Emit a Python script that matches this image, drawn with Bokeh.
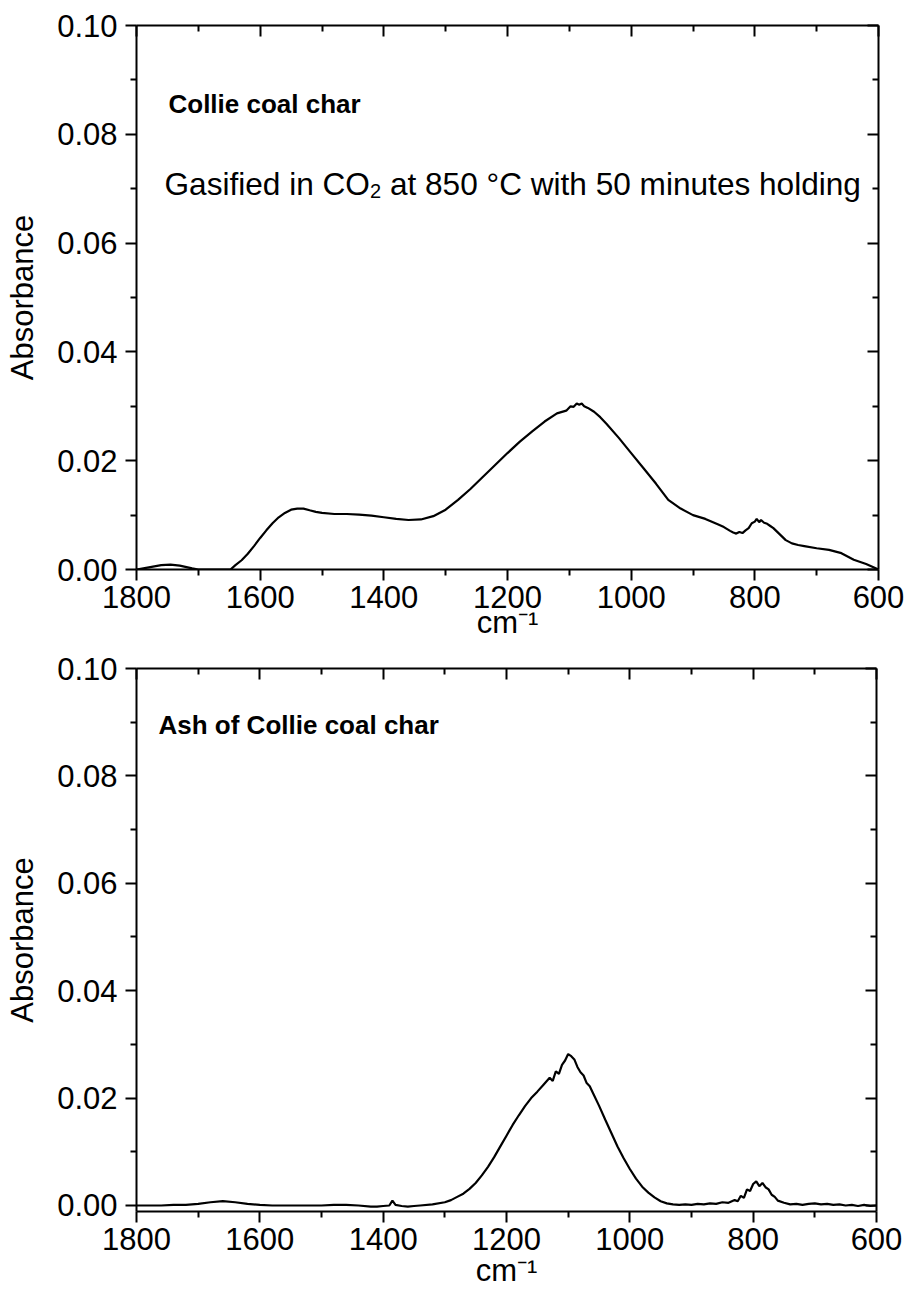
from bokeh.plotting import figure
from bokeh.models import Range1d, LinearAxis, FixedTicker, NumeralTickFormatter, Label
from bokeh.layouts import column
from bokeh.embed import file_html
from bokeh.resources import INLINE

FONT = "Liberation Sans"

x_ticks = [1800, 1600, 1400, 1200, 1000, 800, 600]
x_minor = [1700, 1500, 1300, 1100, 900, 700]
y_ticks = [0.0, 0.02, 0.04, 0.06, 0.08, 0.10]
y_minor = [0.01, 0.03, 0.05, 0.07, 0.09]

# Collie coal char (gasified in CO2 at 850 C, 50 min holding)
char_wn = [1800, 1780, 1760, 1745, 1730, 1710, 1700, 1680, 1660, 1648,
           1640, 1630, 1620, 1610, 1600, 1590, 1580, 1570, 1560, 1550,
           1540, 1530, 1520, 1510, 1500, 1480, 1460, 1440, 1420, 1400,
           1380, 1360, 1340, 1320, 1300, 1280, 1260, 1240, 1220, 1200,
           1180, 1160, 1140, 1120, 1105, 1098, 1093, 1088, 1084, 1080,
           1076, 1070, 1060, 1050, 1040, 1020, 1000, 980, 960, 940,
           920, 900, 880, 860, 850, 840, 835, 830, 825, 820,
           815, 810, 805, 800, 797, 793, 790, 785, 780, 775,
           770, 760, 750, 740, 730, 720, 700, 680, 660, 640,
           620, 600]
char_abs = [0.0000, 0.0004, 0.0008, 0.0009, 0.0007, 0.0002, 0.0000, 0.0000, 0.0000, 0.0000,
            0.0008, 0.0017, 0.0029, 0.0043, 0.0058, 0.0072, 0.0085, 0.0096, 0.0104, 0.0110,
            0.0112, 0.0112, 0.0109, 0.0106, 0.0104, 0.0102, 0.0102, 0.0101, 0.0099, 0.0096,
            0.0093, 0.0091, 0.0092, 0.0098, 0.0110, 0.0128, 0.0148, 0.0170, 0.0192, 0.0214,
            0.0235, 0.0254, 0.0272, 0.0287, 0.0292, 0.0300, 0.0299, 0.0305, 0.0303, 0.0305,
            0.0300, 0.0297, 0.0290, 0.0280, 0.0268, 0.0242, 0.0214, 0.0186, 0.0158, 0.0128,
            0.0112, 0.0100, 0.0093, 0.0083, 0.0078, 0.0071, 0.0068, 0.0066, 0.0069, 0.0067,
            0.0072, 0.0076, 0.0085, 0.0088, 0.0093, 0.0087, 0.0091, 0.0086, 0.0084, 0.0080,
            0.0076, 0.0065, 0.0054, 0.0048, 0.0045, 0.0043, 0.0039, 0.0036, 0.0030, 0.0018,
            0.0010, 0.0000]

# Ash of Collie coal char
ash_wn = [1800, 1780, 1760, 1740, 1720, 1700, 1680, 1660, 1640, 1620,
          1600, 1580, 1560, 1540, 1520, 1500, 1480, 1460, 1440, 1420,
          1410, 1400, 1390, 1385, 1380, 1370, 1360, 1350, 1340, 1320,
          1300, 1290, 1280, 1270, 1260, 1250, 1240, 1230, 1220, 1210,
          1200, 1190, 1180, 1170, 1160, 1150, 1140, 1130, 1125, 1120,
          1115, 1110, 1105, 1100, 1095, 1090, 1085, 1080, 1075, 1070,
          1065, 1060, 1050, 1040, 1030, 1020, 1010, 1000, 990, 980,
          970, 960, 950, 940, 930, 920, 910, 900, 890, 880,
          870, 860, 850, 840, 830, 825, 820, 815, 810, 805,
          800, 795, 790, 785, 780, 775, 770, 765, 760, 750,
          740, 730, 720, 710, 700, 690, 680, 670, 660, 650,
          640, 630, 620, 610, 600]
ash_abs = [0.0000, 0.0000, 0.0000, 0.0001, 0.0001, 0.0003, 0.0006, 0.0008, 0.0006, 0.0003,
           0.0001, 0.0000, 0.0000, 0.0000, 0.0000, 0.0000, 0.0001, 0.0001, 0.0000, -0.0002,
           -0.0002, -0.0001, 0.0000, 0.0009, 0.0001, -0.0001, -0.0002, -0.0001, 0.0000, 0.0002,
           0.0006, 0.0010, 0.0016, 0.0022, 0.0031, 0.0042, 0.0056, 0.0072, 0.0090, 0.0110,
           0.0130, 0.0150, 0.0168, 0.0185, 0.0200, 0.0212, 0.0225, 0.0238, 0.0232, 0.0250,
           0.0245, 0.0262, 0.0270, 0.0282, 0.0278, 0.0272, 0.0258, 0.0248, 0.0242, 0.0228,
           0.0222, 0.0210, 0.0186, 0.0160, 0.0135, 0.0110, 0.0088, 0.0068, 0.0050, 0.0035,
           0.0024, 0.0015, 0.0008, 0.0004, 0.0002, 0.0001, 0.0002, 0.0001, 0.0003, 0.0002,
           0.0004, 0.0003, 0.0006, 0.0005, 0.0010, 0.0008, 0.0018, 0.0014, 0.0030, 0.0027,
           0.0040, 0.0045, 0.0036, 0.0042, 0.0034, 0.0030, 0.0020, 0.0016, 0.0009, 0.0005,
           0.0002, 0.0003, 0.0001, 0.0003, 0.0004, 0.0002, 0.0003, 0.0001, 0.0002, 0.0000,
           0.0001, -0.0001, 0.0001, -0.0001, 0.0000]


def make_fig(frame_w, frame_h, left, right, top, bottom, y0, xlab_standoff):
    p = figure(frame_width=frame_w, frame_height=frame_h,
               min_border_left=left, min_border_right=right,
               min_border_top=top, min_border_bottom=bottom,
               x_range=Range1d(1800, 600), y_range=Range1d(y0, 0.1),
               output_backend="svg", toolbar_location=None,
               x_axis_label="cm\u207b\u00b9", y_axis_label="Absorbance")
    p.grid.visible = False
    p.outline_line_color = None
    p.background_fill_color = "white"
    p.border_fill_color = "white"
    p.add_layout(LinearAxis(), "above")
    p.add_layout(LinearAxis(), "right")
    for ax in p.xaxis:
        ax.ticker = FixedTicker(ticks=x_ticks, minor_ticks=x_minor)
    for ax in p.yaxis:
        ax.ticker = FixedTicker(ticks=y_ticks, minor_ticks=y_minor)
        ax.formatter = NumeralTickFormatter(format="0.00")
    for ax in p.axis:
        ax.axis_line_width = 2
        ax.axis_line_color = "black"
        ax.major_tick_line_width = 2
        ax.minor_tick_line_width = 2
        ax.major_tick_line_color = "black"
        ax.minor_tick_line_color = "black"
        ax.major_label_text_font = FONT
        ax.major_label_text_font_size = "31px"
        ax.major_label_text_color = "black"
        ax.axis_label_text_font = FONT
        ax.axis_label_text_font_size = "31px"
        ax.axis_label_text_font_style = "normal"
        ax.axis_label_text_color = "black"
    for ax in (p.below[0], p.left[0]):
        ax.major_tick_out = 11
        ax.major_tick_in = 0
        ax.minor_tick_out = 6
        ax.minor_tick_in = 0
    p.below[0].major_label_standoff = 5
    p.below[0].axis_label_standoff = xlab_standoff
    p.left[0].major_label_standoff = 8
    p.left[0].axis_label_standoff = 14
    for ax in (p.above[0], p.right[0]):
        ax.major_tick_out = 0
        ax.major_tick_in = 11
        ax.minor_tick_out = 0
        ax.minor_tick_in = 6
        ax.major_label_text_font_size = "1px"
        ax.major_label_text_color = None
        ax.major_label_standoff = 0
        ax.axis_label = None
    return p


def add_text(p, x, y, text, size, bold=False):
    p.add_layout(Label(x=x, y=y, text=text, text_font=FONT,
                       text_font_size=size, text_color="black",
                       text_font_style="bold" if bold else "normal",
                       text_align="left", text_baseline="alphabetic"))


# Top panel
p1 = make_fig(742, 544, 136, 31, 25, 80, 0.0, -6)
p1.line(char_wn, char_abs, line_width=2.2, line_color="black")
add_text(p1, 1748.3, 0.0855, "Collie coal char", "26px", bold=True)
add_text(p1, 1754.7, 0.0708, "Gasified in CO", "31.6px")
add_text(p1, 1422.4, 0.0695, "2", "20px")
add_text(p1, 1390.2, 0.0708, "at 850 \u00b0C with 50 minutes holding", "31.6px")

# Bottom panel
p2 = make_fig(740, 543, 133, 36, 19, 88, -0.00112, 0)
p2.line(ash_wn, ash_abs, line_width=2.2, line_color="black")
add_text(p2, 1764.3, 0.0894, "Ash of Collie coal char", "26px", bold=True)

layout = column(p1, p2, spacing=0)
open("out.html", "w").write(file_html(layout, INLINE))
